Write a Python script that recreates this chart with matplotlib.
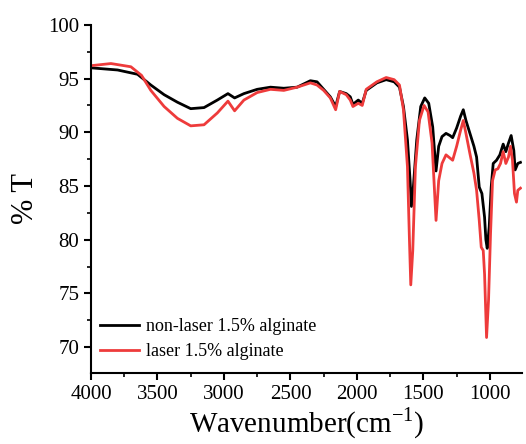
import matplotlib.pyplot as plt
from matplotlib.ticker import MultipleLocator

plt.rcParams['font.family'] = 'Liberation Serif'
plt.rcParams['mathtext.fontset'] = 'custom'
plt.rcParams['mathtext.rm'] = 'Liberation Serif'

# non-laser 1.5% alginate
wn_black = [4000, 3800, 3650, 3550, 3450, 3350, 3250, 3150, 3050, 2970, 2920, 2850,
            2750, 2650, 2550, 2450, 2350, 2300, 2250, 2200, 2160, 2130, 2080, 2050,
            2030, 1990, 1960, 1930, 1850, 1780, 1720, 1680, 1650, 1620, 1600, 1590,
            1575, 1550, 1520, 1490, 1460, 1430, 1405, 1385, 1360, 1330, 1300, 1280,
            1250, 1220, 1200, 1180, 1150, 1120, 1100, 1080, 1060, 1040, 1030, 1020,
            1005, 990, 975, 950, 925, 900, 880, 860, 840, 820, 810, 790, 770]
t_black = [96.0, 95.8, 95.4, 94.4, 93.5, 92.8, 92.2, 92.3, 93.0, 93.6, 93.2, 93.6,
           94.0, 94.2, 94.1, 94.2, 94.8, 94.7, 94.0, 93.3, 92.4, 93.8, 93.6, 93.3,
           92.6, 93.0, 92.7, 93.9, 94.6, 94.9, 94.7, 94.2, 92.4, 89.3, 85.5, 83.1,
           85.0, 89.3, 92.4, 93.2, 92.7, 90.5, 86.4, 88.7, 89.6, 89.9, 89.7, 89.5,
           90.4, 91.5, 92.1, 91.1, 89.9, 88.7, 87.7, 84.9, 84.3, 82.1, 80.0, 79.2,
           81.2, 84.9, 87.1, 87.4, 87.9, 88.9, 88.2, 89.0, 89.7, 88.3, 86.5, 87.1, 87.2]

# laser 1.5% alginate
wn_red = [4000, 3850, 3700, 3620, 3550, 3450, 3350, 3250, 3150, 3050, 2970, 2920,
          2850, 2750, 2650, 2550, 2450, 2350, 2300, 2250, 2200, 2160, 2130, 2080,
          2050, 2030, 1990, 1960, 1930, 1850, 1780, 1720, 1680, 1650, 1620, 1605,
          1595, 1580, 1560, 1530, 1495, 1465, 1435, 1405, 1385, 1360, 1330, 1300,
          1280, 1250, 1220, 1200, 1180, 1150, 1120, 1100, 1080, 1065, 1050, 1040,
          1025, 1010, 995, 980, 960, 940, 920, 900, 880, 860, 845, 830, 815, 800,
          790, 770]
t_red = [96.2, 96.4, 96.1, 95.3, 93.9, 92.4, 91.3, 90.6, 90.7, 91.8, 92.9, 92.0,
         93.0, 93.7, 94.0, 93.9, 94.2, 94.6, 94.4, 93.9, 93.2, 92.1, 93.8, 93.5,
         93.0, 92.4, 92.7, 92.5, 94.0, 94.7, 95.1, 94.9, 94.4, 92.1, 86.8, 80.0,
         75.8, 79.0, 86.8, 91.1, 92.5, 91.9, 89.0, 81.8, 85.5, 87.1, 87.9, 87.6,
         87.4, 88.7, 90.2, 91.1, 89.9, 88.0, 86.2, 84.6, 81.8, 79.3, 79.0, 76.8,
         70.9, 74.4, 80.6, 85.5, 86.5, 86.6, 87.1, 88.2, 87.1, 87.7, 88.7, 87.4,
         84.3, 83.5, 84.6, 84.8]

fig = plt.figure(figsize=(5.26, 4.44), dpi=100)
ax = fig.add_axes([0.173, 0.160, 0.819, 0.784])

ax.plot(wn_black, t_black, color='black', lw=2, label='non-laser 1.5% alginate')
ax.plot(wn_red, t_red, color='#ee3b3b', lw=2, label='laser 1.5% alginate')

ax.set_xlim(4000, 760)
ax.set_ylim(67.6, 100)
ax.xaxis.set_major_locator(MultipleLocator(500))
ax.xaxis.set_minor_locator(MultipleLocator(250))
ax.yaxis.set_major_locator(MultipleLocator(5))
ax.yaxis.set_minor_locator(MultipleLocator(2.5))

for s in ['top', 'right']:
    ax.spines[s].set_visible(False)
for s in ['left', 'bottom']:
    ax.spines[s].set_linewidth(1.5)
ax.tick_params(which='major', direction='out', length=5, width=1.5, labelsize=15)
ax.tick_params(which='minor', direction='out', length=3, width=1.2)

ax.set_xlabel(r'Wavenumber(cm$^{-1}$)', fontsize=21, labelpad=1)
ax.set_ylabel('% T', fontsize=22, labelpad=6)

ax.legend(loc='lower left', bbox_to_anchor=(-0.005, 0.005), frameon=False, fontsize=13,
          handlelength=2.2, handletextpad=0.35, labelspacing=0.45, borderaxespad=0.2)

fig.savefig('out.png', dpi=100)
